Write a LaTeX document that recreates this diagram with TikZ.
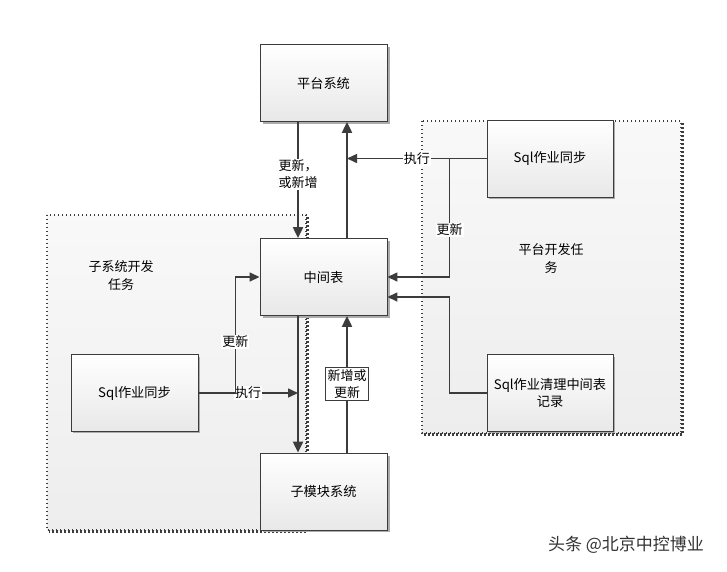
\documentclass[tikz,border=0pt]{standalone}
\usepackage{fontspec}
\setmainfont{Noto Sans CJK SC}
\usetikzlibrary{arrows.meta,positioning,calc}
\definecolor{ln}{HTML}{3C3C3C}
\tikzset{
  box/.style={draw=ln, line width=0.9pt, top color=white, bottom color=gray!18, minimum width=127pt, minimum height=77pt, font=\fontsize{13.2}{17}\selectfont, align=center, inner sep=2pt},
  shadowbox/.style={fill=gray!65, draw=none},
  container/.style={draw=ln, dash pattern=on 1.4pt off 2.6pt, line width=1.5pt, top color=gray!5, bottom color=gray!14},
  mainarr/.style={draw=ln, line width=2.2pt, -{Triangle[length=11pt,width=10pt]}},
  arr/.style={draw=ln, line width=1.5pt, -{Triangle[length=10pt,width=9pt]}},
  lbl/.style={fill=white, inner sep=1pt, font=\fontsize{13}{17}\selectfont, align=center},
  clbl/.style={font=\fontsize{13}{18}\selectfont, align=center}
}
\begin{document}
\begin{tikzpicture}[x=1pt,y=-1pt]
\useasboundingbox (0,0) rectangle (727,571);
\fill[white] (0,0) rectangle (727,571);
% containers
\draw[container] (47,215) rectangle (306,530);
\draw[ln, dash pattern=on 1.6pt off 2.4pt, line width=2.4pt] (307.5,217) -- (307.5,531.5) -- (49,531.5);
\node[clbl] (ltask) at (121,276) {子系统开发\\任务};
\draw[container] (422,121) rectangle (681,433);
\draw[ln, dash pattern=on 1.6pt off 2.4pt, line width=2.4pt] (682.5,123) -- (682.5,434.5) -- (424,434.5);
\node[clbl] (rtask) at (551,259) {平台开发任\\务};
% shadows
\fill[shadowbox] (263,47) rectangle (390,124);
\fill[shadowbox] (263,241) rectangle (390,318);
\fill[shadowbox] (263,456) rectangle (390,532);
\fill[shadowbox] (73,357) rectangle (200,433);
\fill[shadowbox] (489,122) rectangle (615,199);
\fill[shadowbox] (489,357) rectangle (615,433);
% boxes
\node[box] (plat) at (323.5,83) {平台系统};
\node[box] (mid) at (323.5,277) {中间表};
\node[box] (sub) at (323.5,491.5) {子模块系统};
\node[box] (lsql) at (134.5,393) {Sql作业同步};
\node[box, minimum width=126pt] (rsql) at (550,158.5) {Sql作业同步};
\node[box, minimum width=126pt] (csql) at (550,393) {Sql作业清理中间表\\记录};
% junction points on vertical lines
\coordinate (j1) at (347,158.5);
\coordinate (j2) at (298,393);
% main vertical connectors
\draw[mainarr] ([xshift=-25.5pt]plat.south) -- node[lbl, pos=0.45] {更新，\\或新增} ([xshift=-25.5pt]mid.north);
\draw[mainarr] ([xshift=23.5pt]mid.north) -- ([xshift=23.5pt]plat.south);
\draw[mainarr] ([xshift=-25.5pt]mid.south) -- ([xshift=-25.5pt]sub.north);
\draw[mainarr] ([xshift=23.5pt]sub.north) -- node[lbl, draw=ln, line width=0.6pt, pos=0.5, inner sep=2pt] {新增或\\更新} ([xshift=23.5pt]mid.south);
% right side connectors
\draw[arr] (rsql.west) -- node[lbl, pos=0.5] {执行} (j1);
\draw[arr] (rsql.west) -- ++(-37,0) |- node[lbl, pos=0.3] {更新} (mid.east |- 0,277);
\draw[arr] (csql.west) -- ++(-37,0) |- (mid.east |- 0,297);
% left side connectors
\draw[arr] (lsql.east) -- node[lbl, pos=0.5] {执行} (j2);
\draw[arr] (lsql.east) -- ++(37,0) |- node[lbl, pos=0.22] {更新} (mid.west |- 0,277);
% watermark
\node[font=\fontsize{17}{20}\selectfont, text=black!80] (wm) at (626,545) {头条 @北京中控博业};
\end{tikzpicture}
\end{document}
